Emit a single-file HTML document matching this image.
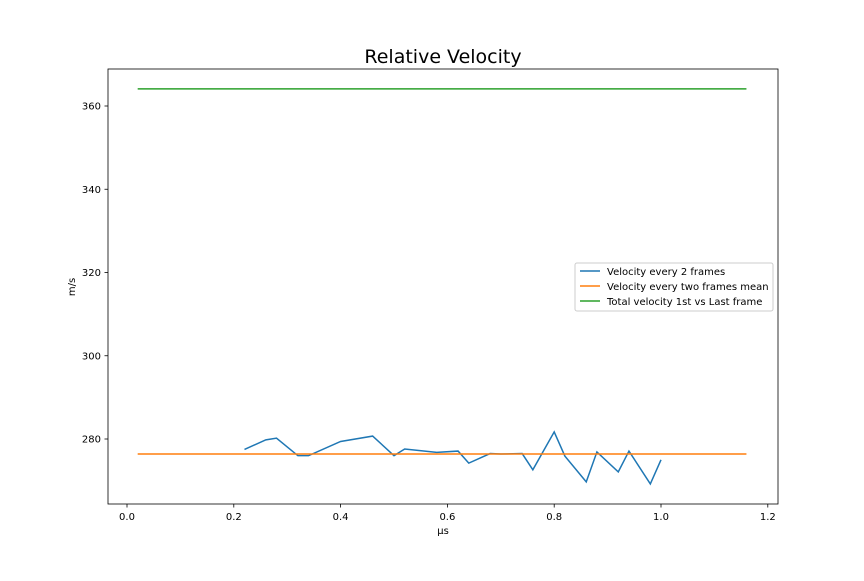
<!DOCTYPE html>
<html><head><meta charset="utf-8"><style>
body{margin:0;background:#fff}
svg{font-family:"DejaVu Sans","Liberation Sans",sans-serif}
</style></head><body>
<svg width="864" height="576" id="c" xmlns="http://www.w3.org/2000/svg">
<rect width="864" height="576" fill="#fff"/>
<text x="443" y="63" font-size="19" text-anchor="middle">Relative Velocity</text>
<text x="443" y="534" font-size="10" text-anchor="middle">µs</text>
<text x="75" y="287" font-size="10" text-anchor="middle" transform="rotate(-90 75 287)">m/s</text>
<g id="marks"></g>
<rect x="108" y="69" width="670" height="435" fill="none" stroke="#000" stroke-width="0.8"/>
<g>
<rect x="575" y="263" width="198" height="48" fill="#fff" stroke="#ccc" rx="2"/>
<line x1="580" y1="271" x2="600" y2="271" stroke="#1f77b4" stroke-width="1.5"/>
<text x="607" y="275" font-size="10">Velocity every 2 frames</text>
<line x1="580" y1="286" x2="600" y2="286" stroke="#ff7f0e" stroke-width="1.5"/>
<text x="607" y="290" font-size="10">Velocity every two frames mean</text>
<line x1="580" y1="301" x2="600" y2="301" stroke="#2ca02c" stroke-width="1.5"/>
<text x="607" y="305" font-size="10">Total velocity 1st vs Last frame</text>
</g>
</svg>
<script>
const xs=[0.22,0.26,0.28,0.32,0.34,0.40,0.46,0.50,0.52,0.58,0.62,0.64,0.68,0.70,0.74,0.76,0.80,0.82,0.86,0.88,0.92,0.94,0.98,1.00];
const vel=[277.5,279.8,280.2,276.0,276.0,279.4,280.7,276.0,277.6,276.8,277.1,274.2,276.5,276.4,276.5,272.6,281.7,275.9,269.7,276.9,272.1,277.1,269.2,275.0];
const meanVal=276.4;
const totalVal=364.1;
const lineRange=[0.02,1.16];
const xTicks=[0,0.2,0.4,0.6,0.8,1.0,1.2];
const xTickLabels=["0.0","0.2","0.4","0.6","0.8","1.0","1.2"];
const yTicks=[280,300,320,340,360];
const NS="http://www.w3.org/2000/svg";
const X=v=>127+v*534;
const Y=v=>439-(v-280)*4.1625;
const g=document.getElementById('marks');
function mk(t,a){const e=document.createElementNS(NS,t);for(const k in a)e.setAttribute(k,a[k]);g.appendChild(e);return e;}
xTicks.forEach((t,i)=>{
 const l=mk('line',{x1:X(t),x2:X(t),y1:504,y2:507.5,stroke:'#000','stroke-width':0.8});
 
 
 const tx=mk('text',{x:X(t),y:520,'font-size':10,'text-anchor':'middle'});tx.textContent=xTickLabels[i];
 
 
});
yTicks.forEach(t=>{
 const l=mk('line',{x1:104.5,x2:108,y1:Y(t),y2:Y(t),stroke:'#000','stroke-width':0.8});
 
 
 const tx=mk('text',{x:101,y:Y(t)+3.5,'font-size':10,'text-anchor':'end'});tx.textContent=t;
 
 
});
const p=mk('polyline',{points:xs.map((x,i)=>X(x)+','+Y(vel[i])).join(' '),fill:'none',stroke:'#1f77b4','stroke-width':1.5});


const m=mk('line',{x1:X(lineRange[0]),x2:X(lineRange[1]),y1:Y(meanVal),y2:Y(meanVal),stroke:'#ff7f0e','stroke-width':1.5});


const t=mk('line',{x1:X(lineRange[0]),x2:X(lineRange[1]),y1:Y(totalVal),y2:Y(totalVal),stroke:'#2ca02c','stroke-width':1.5});


</script>
</body></html>
